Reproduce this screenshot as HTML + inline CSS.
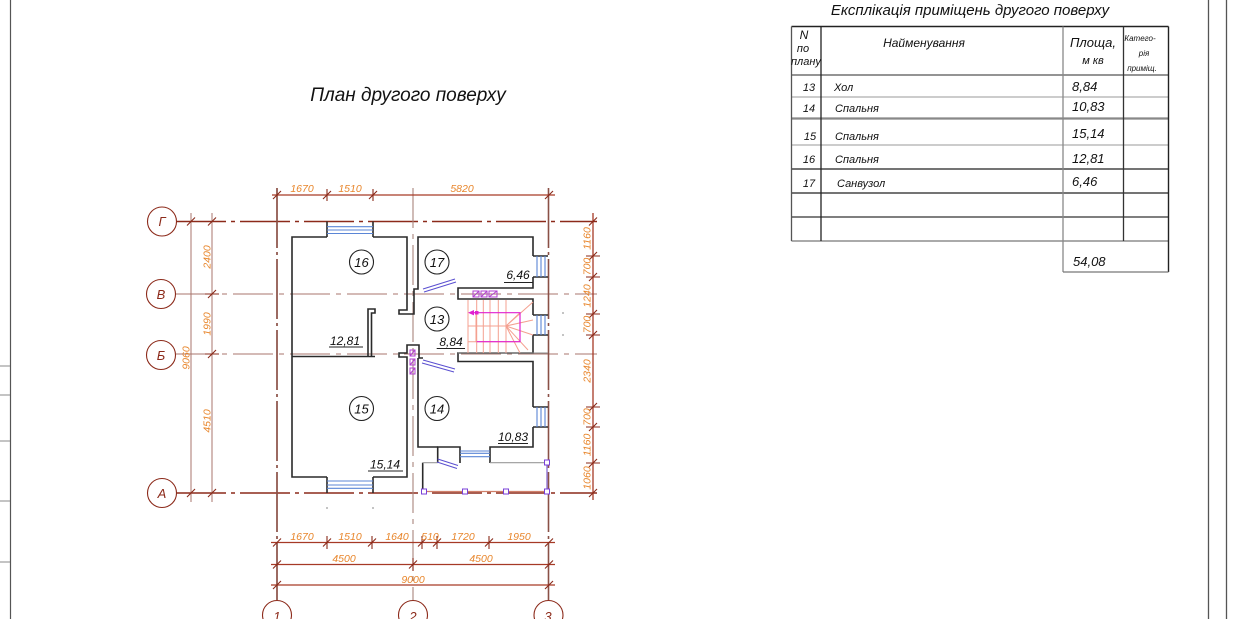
<!DOCTYPE html>
<html><head><meta charset="utf-8"><style>
html,body{margin:0;padding:0;background:#fff;}
svg{display:block;}
text{font-family:"Liberation Sans","Noto Sans CJK SC",sans-serif;font-style:italic;}
.d{fill:#e8862c;font-size:10.5px;text-anchor:middle;}
.w{stroke:#2a2a2a;stroke-width:1.6;fill:none;}
.bl{stroke:#5b86d6;stroke-width:1.1;fill:none;}
.dm{stroke:#a63a26;stroke-width:1.3;fill:none;}
.tk{stroke:#8a2a1a;stroke-width:1.1;fill:none;}
</style></head><body>
<svg width="1250" height="619" viewBox="0 0 1250 619" xmlns="http://www.w3.org/2000/svg">
<rect width="1250" height="619" fill="#fff"/>
<!-- page borders -->
<line x1="10.5" y1="0" x2="10.5" y2="619" stroke="#555" stroke-width="1.2"/>
<g stroke="#888" stroke-width="1">
<line x1="0" y1="366" x2="10" y2="366"/><line x1="0" y1="395" x2="10" y2="395"/>
<line x1="0" y1="441" x2="10" y2="441"/><line x1="0" y1="501" x2="10" y2="501"/>
<line x1="0" y1="562" x2="10" y2="562"/></g>
<line x1="1208.5" y1="0" x2="1208.5" y2="619" stroke="#555" stroke-width="1.3"/>
<line x1="1226.5" y1="0" x2="1226.5" y2="619" stroke="#555" stroke-width="1.3"/>

<!-- title -->
<text x="408" y="101" font-size="19" text-anchor="middle" fill="#111">План другого поверху</text>

<!-- TABLE -->
<text x="970" y="15" font-size="15" text-anchor="middle" fill="#111">Експлікація приміщень другого поверху</text>
<g fill="none">
<line x1="791.5" y1="75" x2="1168.5" y2="75" stroke="#555" stroke-width="1.2"/>
<line x1="791.5" y1="97" x2="1168.5" y2="97" stroke="#999" stroke-width="1.1"/>
<line x1="791.5" y1="118.5" x2="1168.5" y2="118.5" stroke="#888" stroke-width="2.2"/>
<line x1="791.5" y1="145" x2="1168.5" y2="145" stroke="#999" stroke-width="1.1"/>
<line x1="791.5" y1="169" x2="1168.5" y2="169" stroke="#222" stroke-width="1.3"/>
<line x1="791.5" y1="193" x2="1168.5" y2="193" stroke="#222" stroke-width="1.3"/>
<line x1="791.5" y1="217" x2="1168.5" y2="217" stroke="#333" stroke-width="1.2"/>
<line x1="791.5" y1="241" x2="1168.5" y2="241" stroke="#777" stroke-width="1.2"/>
<line x1="791.5" y1="26.5" x2="1168.5" y2="26.5" stroke="#222" stroke-width="1.4"/>
<line x1="791.5" y1="26.5" x2="791.5" y2="241" stroke="#555" stroke-width="1.3"/>
<line x1="821" y1="26.5" x2="821" y2="241" stroke="#222" stroke-width="1.3"/>
<line x1="1063" y1="26.5" x2="1063" y2="272" stroke="#888" stroke-width="1.3"/>
<line x1="1123.5" y1="26.5" x2="1123.5" y2="241" stroke="#333" stroke-width="1.3"/>
<line x1="1168.5" y1="26.5" x2="1168.5" y2="272" stroke="#222" stroke-width="1.4"/>
<line x1="1063" y1="272" x2="1168.5" y2="272" stroke="#777" stroke-width="1.3"/>
</g>
<g fill="#111">
<text x="804" y="39" font-size="12" text-anchor="middle">N</text>
<text x="803" y="52" font-size="11" text-anchor="middle">по</text>
<text x="791" y="65" font-size="11">плану</text>
<text x="924" y="47" font-size="12" text-anchor="middle">Найменування</text>
<text x="1093" y="47" font-size="13" text-anchor="middle">Площа,</text>
<text x="1093" y="64" font-size="11" text-anchor="middle">м кв</text>
<text x="1140" y="41" font-size="8" text-anchor="middle">Катего-</text>
<text x="1144" y="56" font-size="8" text-anchor="middle">рія</text>
<text x="1142" y="71" font-size="8" text-anchor="middle">приміщ.</text>
<g font-size="11">
<text x="809" y="91" text-anchor="middle">13</text><text x="834" y="91">Хол</text>
<text x="809" y="112" text-anchor="middle">14</text><text x="835" y="112">Спальня</text>
<text x="810" y="140" text-anchor="middle">15</text><text x="835" y="140">Спальня</text>
<text x="809" y="163" text-anchor="middle">16</text><text x="835" y="163">Спальня</text>
<text x="809" y="187" text-anchor="middle">17</text><text x="837" y="187">Санвузол</text>
</g>
<g font-size="13">
<text x="1072" y="91">8,84</text>
<text x="1072" y="111">10,83</text>
<text x="1072" y="138">15,14</text>
<text x="1072" y="163">12,81</text>
<text x="1072" y="186">6,46</text>
<text x="1073" y="266">54,08</text>
</g>
</g>

<!-- AXES -->
<g fill="none">
<line x1="176" y1="221.5" x2="597" y2="221.5" stroke="#8c2a1a" stroke-width="1.4" stroke-dasharray="50 5 4 5"/>
<line x1="176" y1="294" x2="597" y2="294" stroke="#a8766c" stroke-width="1.1" stroke-dasharray="40 6 5 6"/>
<line x1="176" y1="354" x2="597" y2="354" stroke="#a8766c" stroke-width="1.1" stroke-dasharray="40 6 5 6"/>
<line x1="176" y1="493" x2="597" y2="493" stroke="#8c2a1a" stroke-width="1.4" stroke-dasharray="50 5 4 5"/>
<line x1="277" y1="188" x2="277" y2="600" stroke="#8a5046" stroke-width="1.7" stroke-dasharray="60 4 3 4"/>
<line x1="413" y1="188" x2="413" y2="600" stroke="#a8847c" stroke-width="1.1" stroke-dasharray="40 6 5 6"/>
<line x1="548.5" y1="188" x2="548.5" y2="600" stroke="#8a5046" stroke-width="1.6" stroke-dasharray="60 4 3 4"/>
</g>
<g fill="#fff" stroke="#8c2a1a" stroke-width="1.1">
<circle cx="162" cy="221.5" r="14.5"/><circle cx="161" cy="294" r="14.5"/>
<circle cx="161" cy="355" r="14.5"/><circle cx="162" cy="493" r="14.5"/>
<circle cx="277" cy="615" r="14.5"/><circle cx="413" cy="615" r="14.5"/><circle cx="548.5" cy="615" r="14.5"/>
</g>
<g fill="#8c2a1a" font-size="13" text-anchor="middle">
<text x="162" y="226">Г</text><text x="161" y="299">В</text><text x="161" y="360">Б</text><text x="162" y="498">А</text>
<text x="277" y="621">1</text><text x="413" y="621">2</text><text x="548" y="621">3</text>
</g>

<!-- LEFT DIMS -->
<g stroke="#a8766c" stroke-width="1">
<line x1="191" y1="213" x2="191" y2="502"/><line x1="212" y1="213" x2="212" y2="502"/>
</g>
<g class="tk">
<path d="M187 225.5 L195 217.5 M187 497 L195 489"/>
<path d="M208 225.5 L216 217.5 M208 298 L216 290 M208 358 L216 350 M208 497 L216 489"/>
<path d="M205 294 H219 M205 354 H219"/>
</g>
<g class="d">
<text transform="translate(210.5,257) rotate(-90)">2400</text>
<text transform="translate(210.5,324) rotate(-90)">1990</text>
<text transform="translate(210.5,421) rotate(-90)">4510</text>
<text transform="translate(189.5,358) rotate(-90)">9060</text>
</g>

<!-- RIGHT DIMS -->
<line x1="593" y1="213" x2="593" y2="500" class="dm"/>
<g class="tk">
<path d="M589 225.5 L597 217.5 M589 260 L597 252 M589 281 L597 273 M589 318 L597 310 M589 339 L597 331 M589 411 L597 403 M589 431 L597 423 M589 467 L597 459 M589 497 L597 489"/>
<path d="M586 256 H600 M586 277 H600 M586 314 H600 M586 335 H600 M586 407 H600 M586 427 H600 M586 463 H600"/>
</g>
<g class="d">
<text transform="translate(590.5,238.5) rotate(-90)">1160</text>
<text transform="translate(590.5,266.5) rotate(-90)">700</text>
<text transform="translate(590.5,296) rotate(-90)">1240</text>
<text transform="translate(590.5,324.5) rotate(-90)">700</text>
<text transform="translate(590.5,371) rotate(-90)">2340</text>
<text transform="translate(590.5,417) rotate(-90)">700</text>
<text transform="translate(590.5,445) rotate(-90)">1160</text>
<text transform="translate(590.5,478) rotate(-90)">1060</text>
</g>

<!-- TOP DIMS -->
<line x1="272" y1="195" x2="555" y2="195" class="dm"/>
<g class="tk">
<path d="M273 199 L281 191 M323 199 L331 191 M369 199 L377 191 M545 199 L553 191"/>
<path d="M327 189 V201 M373 189 V201"/>
</g>
<g class="d"><text x="302" y="192">1670</text><text x="350" y="192">1510</text><text x="462" y="192">5820</text></g>

<!-- BOTTOM DIMS -->
<line x1="271" y1="542.5" x2="555" y2="542.5" class="dm"/>
<line x1="271" y1="564.5" x2="555" y2="564.5" class="dm"/>
<line x1="271" y1="585" x2="555" y2="585" class="dm"/>
<g class="tk">
<path d="M273 546.5 L281 538.5 M323 546.5 L331 538.5 M368 546.5 L376 538.5 M418 546.5 L426 538.5 M433 546.5 L441 538.5 M485 546.5 L493 538.5 M545 546.5 L553 538.5"/>
<path d="M327 536 V549 M372 536 V549 M422 536 V549 M437 536 V549 M489 536 V549"/>
<path d="M273 568.5 L281 560.5 M409 568.5 L417 560.5 M545 568.5 L553 560.5 M413 558 V571"/>
<path d="M273 589 L281 581 M545 589 L553 581"/>
</g>
<g class="d">
<text x="302" y="540">1670</text><text x="350" y="540">1510</text><text x="397" y="540">1640</text>
<text x="430" y="540">510</text><text x="463" y="540">1720</text><text x="519" y="540">1950</text>
<text x="344" y="562">4500</text><text x="481" y="562">4500</text>
<text x="413" y="583">9000</text>
</g>

<!-- WALLS -->
<g class="w">
<path d="M327 237 H292 V477 H327 M373 477 H407 V357 H399 V353 H407 V345 H419 V358 H423"/>
<path d="M373 237 H407 V310 H399 V314 H414 V289 H418 V237 H533 V256"/>
<path d="M292 356.5 H375"/>
<path d="M368 356.5 V309 H375 V313 H371.5 V356.5"/>
<path d="M533 277 V288 H458 V299 H533 V315"/>
<path d="M533 335 V353 H458 V361.5 H533 V407"/>
<path d="M533 427 V447 H490 V463"/>
<path d="M460 463 V447 H437.7 V463"/>
<path d="M418 358 V447 H437.7"/>
<path d="M422.7 462.7 V491.5"/>
<path d="M327 221.5 V237 M373 221.5 V237 M327 477 V493 M373 477 V493"/>
<path d="M533 256 H548 M533 277 H548 M533 315 H548 M533 335 H548 M533 407 H548 M533 427 H548"/>
</g>
<line x1="458" y1="353" x2="548" y2="353" stroke="#888" stroke-width="1"/>
<!-- windows -->
<g class="bl">
<path d="M327 226.7 H373 M327 230 H373 M327 233.5 H373"/>
<path d="M327 481 H373 M327 485 H373 M327 488.3 H373"/>
<path d="M460 451 H490 M460 453.3 H490 M460 456.7 H490"/>
<path d="M537 256 V277 M541 256 V277 M545 256 V277"/>
<path d="M537 315 V335 M541 315 V335 M545 315 V335"/>
<path d="M537 407 V427 M541 407 V427 M545 407 V427"/>
</g>
<!-- balcony -->
<g stroke="#999" stroke-width="1.1" fill="none"><path d="M422.7 462.7 H437.7 M490 462.7 H548"/></g>
<line x1="424" y1="491.5" x2="547" y2="491.5" stroke="#d0806a" stroke-width="1.3"/>
<line x1="547" y1="463" x2="547" y2="491.5" stroke="#8060d0" stroke-width="1.2"/>
<g fill="#fff" stroke="#7a40d8" stroke-width="1">
<rect x="421.5" y="489" width="5" height="5"/><rect x="462.5" y="489" width="5" height="5"/>
<rect x="503.5" y="489" width="5" height="5"/><rect x="544.5" y="489" width="5" height="5"/>
<rect x="544.5" y="460" width="5" height="5"/>
</g>
<!-- doors -->
<g stroke="#5a4fd0" stroke-width="1" fill="none">
<path d="M423 289 L455 279 M424 292 L456 282"/>
<path d="M423 360 L455 369 M422 363 L454 372"/>
<path d="M437.7 459 L458 465.5 M437 462 L457 468.5"/>
</g>
<!-- ducts -->
<g fill="none" stroke="#b040d0" stroke-width="1">
<rect x="473" y="291" width="6" height="6"/><rect x="481" y="291" width="6" height="6"/><rect x="489" y="291" width="8" height="6"/>
<rect x="410" y="350" width="5" height="6"/><rect x="410" y="359" width="5" height="6"/><rect x="410" y="368" width="5" height="6"/>
<path d="M410 356 L415 350 M410 365 L415 359 M410 374 L415 368 M473 297 L479 291 M481 297 L487 291 M489 297 L497 291"/>
</g>
<!-- stair -->
<g stroke="#f4a090" stroke-width="1" fill="none">
<path d="M468 300 V353 M476.7 300 V353 M483.3 300 V353 M490 300 V353 M498.3 300 V353 M506 300 V353"/>
<path d="M468 326 H506 L520 312.7 M506 326 L533 302 M506 326 L533 320 M506 326 L533 335 M506 326 L520 353 M506 326 L528 350"/>
<path d="M476 312.7 V341.7 M468 341.7 H520"/>
</g>
<g stroke="#e020d0" stroke-width="1.2" fill="none">
<path d="M470 312.7 H520 V341.7 H476.7"/>
</g>
<path d="M468 312.7 L474 310 L474 315.4 Z" fill="#e020d0"/>
<rect x="475" y="311" width="3.5" height="3.5" fill="#e020d0"/>
<!-- dots -->
<g fill="#999"><circle cx="563" cy="313" r="0.9"/><circle cx="563" cy="335" r="0.9"/><circle cx="327" cy="508" r="0.9"/><circle cx="373" cy="508" r="0.9"/></g>

<!-- room numbers -->
<g fill="#fff" stroke="#222" stroke-width="1.1">
<circle cx="361.5" cy="262" r="12"/><circle cx="437" cy="262" r="12"/>
<circle cx="437" cy="319" r="12"/><circle cx="361.5" cy="408.5" r="12"/><circle cx="437" cy="408.5" r="12"/>
</g>
<g fill="#111" font-size="13" text-anchor="middle">
<text x="361.5" y="267">16</text><text x="437" y="267">17</text><text x="437" y="324">13</text>
<text x="361.5" y="413.5">15</text><text x="437" y="413.5">14</text>
</g>
<!-- areas -->
<g fill="#111" font-size="12" text-anchor="middle">
<text x="518" y="279">6,46</text><text x="345" y="345">12,81</text><text x="451" y="346">8,84</text>
<text x="513" y="441">10,83</text><text x="385" y="468.5">15,14</text>
</g>
<g stroke="#222" stroke-width="1.1">
<path d="M504 282.5 H533 M329 347 H363 M436.7 348.5 H465 M498 443.5 H528 M368 471 H403"/>
</g>
</svg>
</body></html>
